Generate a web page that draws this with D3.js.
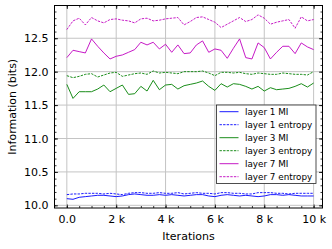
<!DOCTYPE html>
<html>
<head>
<meta charset="utf-8">
<script src="https://cdn.jsdelivr.net/npm/d3@7"></script>
<style>
  body { margin: 0; background: #fff; }
  svg { font-family: "DejaVu Sans", sans-serif; display: block; }
</style>
</head>
<body>
<svg id="chart" width="332" height="249"></svg>
<script>
// iterations, every 250 steps
const iterations = d3.range(0, 10001, 250)

const layer1MI = [10.10, 10.09, 10.12, 10.13, 10.14, 10.15, 10.15, 10.14, 10.13, 10.14, 10.16, 10.17, 10.16, 10.15, 10.15, 10.16, 10.15, 10.16, 10.15, 10.14, 10.15, 10.16, 10.16, 10.14, 10.13, 10.15, 10.16, 10.15, 10.14, 10.15, 10.14, 10.13, 10.14, 10.16, 10.16, 10.15, 10.16, 10.15, 10.14, 10.14, 10.14]
const layer1Entropy = [10.16, 10.17, 10.17, 10.18, 10.18, 10.18, 10.17, 10.18, 10.17, 10.16, 10.18, 10.19, 10.19, 10.18, 10.18, 10.19, 10.18, 10.18, 10.19, 10.17, 10.18, 10.19, 10.18, 10.18, 10.17, 10.19, 10.19, 10.18, 10.18, 10.17, 10.17, 10.19, 10.19, 10.19, 10.18, 10.18, 10.17, 10.18, 10.18, 10.18, 10.18]
const layer3MI = [11.81, 11.60, 11.70, 11.70, 11.70, 11.74, 11.80, 11.70, 11.75, 11.80, 11.66, 11.67, 11.78, 11.71, 11.87, 11.73, 11.80, 11.81, 11.74, 11.79, 11.81, 11.83, 11.86, 11.78, 11.72, 11.82, 11.77, 11.82, 11.81, 11.78, 11.74, 11.78, 11.71, 11.76, 11.73, 11.74, 11.75, 11.78, 11.82, 11.77, 11.83]
const layer3Entropy = [11.94, 11.91, 11.93, 11.96, 11.97, 11.92, 11.95, 11.98, 11.99, 11.93, 11.95, 11.97, 11.98, 11.96, 12.01, 11.98, 11.99, 11.98, 11.97, 12.00, 12.00, 12.00, 12.01, 11.98, 11.94, 11.99, 11.99, 11.98, 11.99, 11.97, 11.96, 11.98, 11.97, 11.96, 11.96, 11.98, 11.97, 11.96, 11.96, 11.95, 12.00]
const layer7MI = [12.21, 12.32, 12.30, 12.28, 12.49, 12.38, 12.28, 12.19, 12.23, 12.25, 12.29, 12.33, 12.44, 12.40, 12.44, 12.34, 12.41, 12.29, 12.40, 12.27, 12.28, 12.40, 12.46, 12.29, 12.34, 12.32, 12.20, 12.35, 12.49, 12.21, 12.19, 12.43, 12.36, 12.19, 12.29, 12.38, 12.38, 12.27, 12.43, 12.37, 12.33]
const layer7Entropy = [12.63, 12.76, 12.80, 12.70, 12.81, 12.76, 12.73, 12.78, 12.79, 12.77, 12.76, 12.73, 12.79, 12.80, 12.76, 12.77, 12.79, 12.80, 12.81, 12.70, 12.75, 12.81, 12.82, 12.78, 12.74, 12.66, 12.71, 12.76, 12.81, 12.75, 12.78, 12.85, 12.80, 12.71, 12.74, 12.76, 12.78, 12.65, 12.82, 12.76, 12.78]

const seriesNames = ['layer 1 MI', 'layer 1 entropy', 'layer 3 MI', 'layer 3 entropy', 'layer 7 MI', 'layer 7 entropy']
const seriesValues = [layer1MI, layer1Entropy, layer3MI, layer3Entropy, layer7MI, layer7Entropy]

const xTicks = [0, 2000, 4000, 6000, 8000, 10000]
const yTicks = [10.0, 10.5, 11.0, 11.5, 12.0, 12.5]

const colors = ['#0000ff', '#0000ff', '#008000', '#008000', '#bf00bf', '#bf00bf']
const dashed = [false, true, false, true, false, true]

const svg = d3.select('#chart')
const plotLeft = 54.5, plotRight = 322.5, plotTop = 5.5, plotBottom = 208

const x = d3.scaleLinear().domain([-500, 10360]).range([plotLeft, plotRight])
const y = d3.scaleLinear().domain([9.96, 12.99]).range([plotBottom, plotTop])

// Grid
svg.append('g').selectAll('line').data(xTicks).join('line')
  .attr('x1', d => x(d)).attr('x2', d => x(d))
  .attr('y1', plotTop).attr('y2', plotBottom)
  .attr('stroke', '#c4c4c4').attr('stroke-width', 1)
svg.append('g').selectAll('line').data(yTicks).join('line')
  .attr('y1', d => y(d)).attr('y2', d => y(d))
  .attr('x1', plotLeft).attr('x2', plotRight)
  .attr('stroke', '#c4c4c4').attr('stroke-width', 1)

// Lines
const line = d3.line().x((d, i) => x(iterations[i])).y(d => y(d))
seriesValues.forEach((vals, k) => {
  svg.append('path')
    .datum(vals)
    .attr('d', line)
    .attr('fill', 'none')
    .attr('stroke', colors[k])
    .attr('stroke-width', 0.9)
    .attr('stroke-dasharray', dashed[k] ? '2.4,1.2' : null)
})

// Axes: inward ticks on all four sides
const xMinor = d3.range(0, 10001, 500)
const yMinor = d3.range(100, 130, 1).map(v => v / 10)
const xFmt = d => d === 0 ? '0.0' : (d / 1000) + ' k'

function styleAxis (g) {
  g.select('.domain').remove()
  g.selectAll('line').attr('stroke', '#000').attr('stroke-width', 0.8)
  g.selectAll('text').attr('font-size', 11).attr('fill', '#000')
  g.attr('font-family', null)
}

svg.append('g').attr('transform', `translate(0,${plotBottom})`)
  .call(d3.axisBottom(x).tickValues(xMinor).tickSize(-2).tickFormat(''))
  .call(styleAxis)
svg.append('g').attr('transform', `translate(0,${plotBottom})`)
  .call(d3.axisBottom(x).tickValues(xTicks).tickSize(-3.5).tickPadding(7).tickFormat(xFmt))
  .call(styleAxis)
svg.append('g').attr('transform', `translate(0,${plotTop})`)
  .call(d3.axisTop(x).tickValues(xMinor).tickSize(-2).tickFormat(''))
  .call(styleAxis)
svg.append('g').attr('transform', `translate(0,${plotTop})`)
  .call(d3.axisTop(x).tickValues(xTicks).tickSize(-3.5).tickFormat(''))
  .call(styleAxis)
svg.append('g').attr('transform', `translate(${plotLeft},0)`)
  .call(d3.axisLeft(y).tickValues(yMinor).tickSize(-2).tickFormat(''))
  .call(styleAxis)
svg.append('g').attr('transform', `translate(${plotLeft},0)`)
  .call(d3.axisLeft(y).tickValues(yTicks).tickSize(-3.5).tickPadding(6).tickFormat(d3.format('.1f')))
  .call(styleAxis)
svg.append('g').attr('transform', `translate(${plotRight},0)`)
  .call(d3.axisRight(y).tickValues(yMinor).tickSize(-2).tickFormat(''))
  .call(styleAxis)
svg.append('g').attr('transform', `translate(${plotRight},0)`)
  .call(d3.axisRight(y).tickValues(yTicks).tickSize(-3.5).tickFormat(''))
  .call(styleAxis)

// Frame
svg.append('rect')
  .attr('x', plotLeft).attr('y', plotTop)
  .attr('width', plotRight - plotLeft).attr('height', plotBottom - plotTop)
  .attr('fill', 'none').attr('stroke', '#000').attr('stroke-width', 1)

// Axis labels
svg.append('text')
  .attr('x', (plotLeft + plotRight) / 2).attr('y', 240)
  .attr('text-anchor', 'middle').attr('font-size', 11)
  .text('Iterations')
svg.append('text')
  .attr('transform', `translate(15.5,${(plotTop + plotBottom) / 2}) rotate(-90)`)
  .attr('text-anchor', 'middle').attr('font-size', 11)
  .text('Information (bits)')

// Legend
const legend = svg.append('g').attr('transform', 'translate(216.5,105)')
legend.append('rect')
  .attr('width', 99.5).attr('height', 78.5)
  .attr('fill', '#fff').attr('stroke', '#222').attr('stroke-width', 0.8)
seriesNames.forEach((name, k) => {
  const cy = 6.7 + k * 13
  legend.append('line')
    .attr('x1', 3).attr('x2', 22)
    .attr('y1', cy).attr('y2', cy)
    .attr('stroke', colors[k]).attr('stroke-width', 0.9)
    .attr('stroke-dasharray', dashed[k] ? '2.4,1.2' : null)
  legend.append('text')
    .attr('x', 28.5).attr('y', cy + 3.2)
    .attr('font-size', 8.8)
    .text(name)
})
</script>
</body>
</html>
